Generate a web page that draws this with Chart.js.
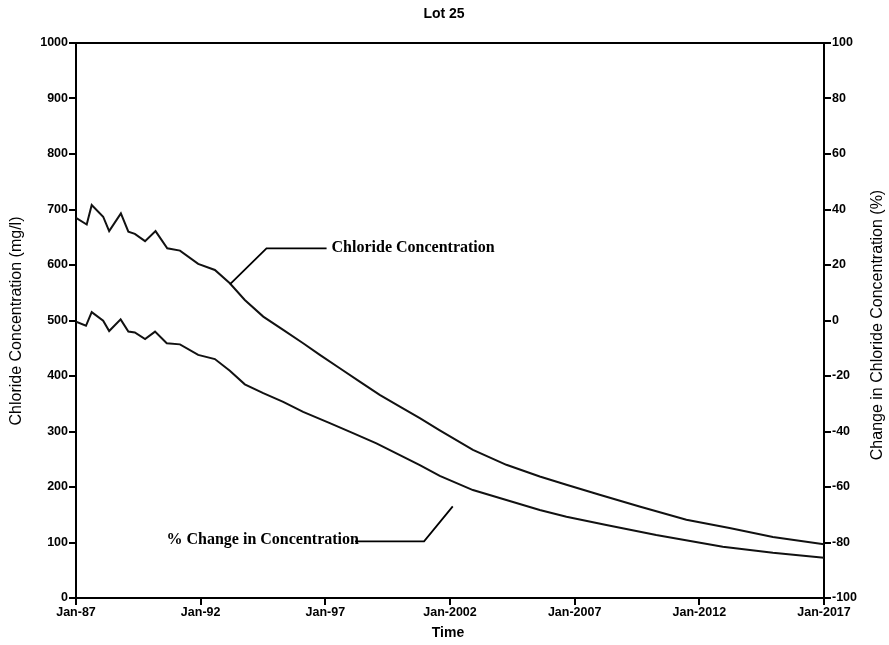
<!DOCTYPE html>
<html>
<head>
<meta charset="utf-8">
<title>Lot 25</title>
<script src="https://cdn.jsdelivr.net/npm/chart.js@4/dist/chart.umd.min.js"></script>
<style>
    html, body { margin: 0; padding: 0; background: #fff; }
    #wrap { width: 889px; height: 645px; }
</style>
</head>
<body>
<div id="wrap"><canvas id="lotChart" width="889" height="645"></canvas></div>
<script>
    // Chloride concentration (mg/l), decimal year of each sample
    const chlorideYears = [1987.0, 1987.43, 1987.63, 1988.09, 1988.33, 1988.8, 1989.1, 1989.36, 1989.77,
        1990.19, 1990.66, 1991.17, 1991.9, 1992.57, 1993.17, 1993.77, 1994.51, 1995.31, 1996.11,
        1996.78, 1997.58, 1998.38, 1999.18, 1999.99, 2000.79, 2001.59, 2002.92, 2004.26, 2005.6,
        2006.67, 2008.0, 2009.6, 2011.48, 2013.21, 2014.95, 2017.0];
    const chloride = [685, 673, 708, 687, 661, 693, 660, 656, 643,
        661, 630, 626, 602, 591, 567, 537, 507, 483, 459,
        438, 414, 390, 366, 345, 324, 302, 267, 240, 219,
        204, 186, 165, 141, 126, 110, 97];

    // % change in concentration (right axis)
    const changeYears = [1987.0, 1987.4, 1987.63, 1988.09, 1988.33, 1988.79, 1989.1, 1989.36, 1989.77,
        1990.17, 1990.64, 1991.17, 1991.9, 1992.57, 1993.17, 1993.77, 1994.51, 1995.31, 1996.11,
        1997.18, 1998.11, 1999.05, 1999.99, 2000.79, 2001.59, 2002.92, 2004.26, 2005.6, 2006.67,
        2008.27, 2010.27, 2012.94, 2014.95, 2017.0];
    const pctChange = [-0.4, -1.9, 3.0, -0.1, -3.8, 0.4, -4.0, -4.3, -6.7,
        -4.0, -8.2, -8.6, -12.4, -13.9, -18.1, -23.0, -26.2, -29.3, -32.9,
        -37.0, -40.6, -44.3, -48.5, -52.1, -56.0, -61.1, -64.7, -68.3, -70.7,
        -73.7, -77.3, -81.5, -83.7, -85.5];

    const xTicks = [1987, 1992, 1997, 2002, 2007, 2012, 2017];

    function yearLabel(v) {
        return v < 2000 ? 'Jan-' + String(v).slice(2) : 'Jan-' + v;
    }

    const tickFont = { family: 'Liberation Sans', size: 12.5, weight: 'bold' };

    function axisStyle() {
        return {
            grid: { drawOnChartArea: false, drawTicks: true, tickLength: 7, color: '#000', lineWidth: 2 },
            border: { display: true, color: '#000', width: 2 }
        };
    }

    // titles, frame top and the two callout labels
    const decorations = {
        id: 'decorations',
        afterDraw(chart) {
            const ctx = chart.ctx;
            const area = chart.chartArea;
            const sx = chart.scales.x, sy = chart.scales.y;
            ctx.save();
            ctx.strokeStyle = '#000';
            ctx.fillStyle = '#000';

            ctx.lineWidth = 2;
            ctx.beginPath();
            ctx.moveTo(area.left, area.top);
            ctx.lineTo(area.right, area.top);
            ctx.stroke();

            ctx.textAlign = 'center';
            ctx.textBaseline = 'middle';
            ctx.font = 'bold 14px "Liberation Sans"';
            ctx.fillText('Lot 25', 444, 14);
            ctx.fillText('Time', 448, 633);

            ctx.font = '16px "Liberation Sans"';
            ctx.save();
            ctx.translate(17, 321);
            ctx.rotate(-Math.PI / 2);
            ctx.fillText('Chloride Concentration (mg/l)', 0, 0);
            ctx.restore();
            ctx.save();
            ctx.translate(878, 325);
            ctx.rotate(-Math.PI / 2);
            ctx.fillText('Change in Chloride Concentration (%)', 0, 0);
            ctx.restore();

            // callout: Chloride Concentration
            ctx.lineWidth = 1.8;
            ctx.beginPath();
            ctx.moveTo(sx.getPixelForValue(1993.17), sy.getPixelForValue(565));
            ctx.lineTo(sx.getPixelForValue(1994.64), sy.getPixelForValue(630));
            ctx.lineTo(sx.getPixelForValue(1997.05), sy.getPixelForValue(630));
            ctx.stroke();
            ctx.font = 'bold 16px "Liberation Serif"';
            ctx.textAlign = 'left';
            ctx.fillText('Chloride Concentration', sx.getPixelForValue(1997.25), sy.getPixelForValue(630));

            // callout: % Change in Concentration
            const tx = sx.getPixelForValue(1990.63);
            const ty = sy.getPixelForValue(104);
            const label = '% Change in Concentration';
            ctx.fillText(label, tx, ty);
            const tw = ctx.measureText(label).width;
            ctx.beginPath();
            ctx.moveTo(tx + tw - 4, ty + 1);
            ctx.lineTo(sx.getPixelForValue(2000.96), ty + 1);
            ctx.lineTo(sx.getPixelForValue(2002.11), sy.getPixelForValue(165));
            ctx.stroke();
            ctx.restore();
        }
    };

    const ctx = document.getElementById('lotChart').getContext('2d');
    const chart = new Chart(ctx, {
        type: 'line',
        data: {
            datasets: [{
                label: 'Chloride Concentration',
                data: chlorideYears.map((x, i) => ({ x: x, y: chloride[i] })),
                borderColor: '#111',
                borderWidth: 2,
                pointRadius: 0,
                tension: 0,
                yAxisID: 'y'
            }, {
                label: '% Change in Concentration',
                data: changeYears.map((x, i) => ({ x: x, y: pctChange[i] })),
                borderColor: '#111',
                borderWidth: 2,
                pointRadius: 0,
                tension: 0,
                yAxisID: 'y2'
            }]
        },
        options: {
            responsive: false,
            animation: false,
            layout: { padding: { top: 43, left: 0, right: 0, bottom: 0 } },
            plugins: {
                legend: { display: false },
                tooltip: { enabled: false },
                title: { display: false }
            },
            scales: {
                x: Object.assign(axisStyle(), {
                    type: 'linear',
                    min: 1987,
                    max: 2017,
                    afterBuildTicks: s => { s.ticks = xTicks.map(v => ({ value: v })); },
                    afterFit: s => { s.height = 47; },
                    ticks: { color: '#000', font: tickFont, padding: 0, autoSkip: false, maxRotation: 0, callback: yearLabel }
                }),
                y: Object.assign(axisStyle(), {
                    position: 'left',
                    min: 0,
                    max: 1000,
                    afterFit: s => { s.width = 76; },
                    ticks: { color: '#000', font: tickFont, padding: 1, stepSize: 100, callback: v => String(v) }
                }),
                y2: Object.assign(axisStyle(), {
                    position: 'right',
                    min: -100,
                    max: 100,
                    afterFit: s => { s.width = 65; },
                    ticks: { color: '#000', font: tickFont, padding: 1, stepSize: 20, callback: v => String(v) }
                })
            }
        },
        plugins: [decorations]
    });
</script>
</body>
</html>
